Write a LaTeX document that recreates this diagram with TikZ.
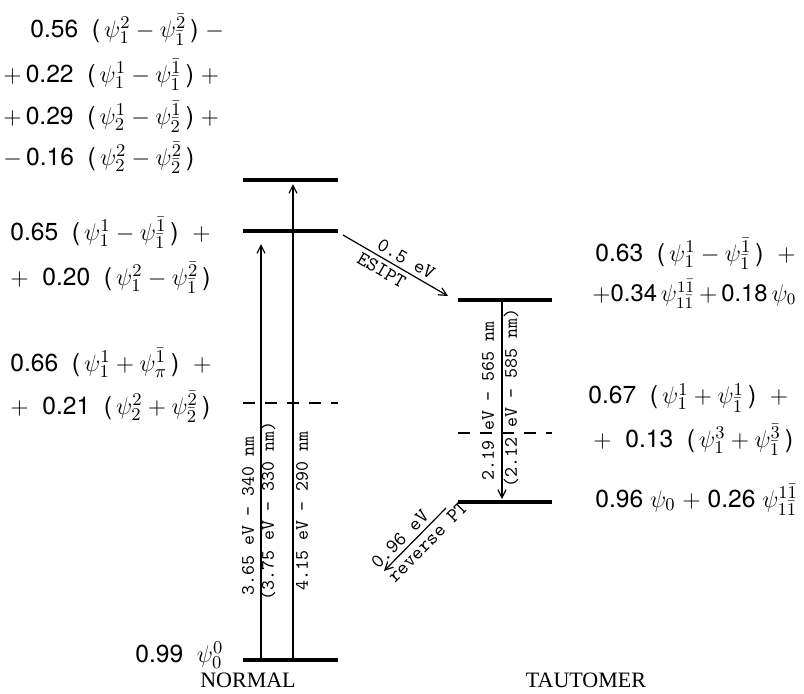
\documentclass[tikz,border=0pt]{standalone}
\usepackage{fontspec}
\setmainfont{Liberation Serif}
\newfontfamily\eqf{TeX Gyre Heros}
\usetikzlibrary{arrows.meta}
\begin{document}
\begin{tikzpicture}[x=0.5pt,y=-0.5pt,
  lvl/.style={line width=2pt},
  dlvl/.style={line width=0.6pt, dash pattern=on 6pt off 5pt},
  tr/.style={line width=0.6pt, -{Straight Barb[length=4pt,width=4pt]}},
  eq/.style={font=\eqf\fontsize{12.3}{14}\selectfont, anchor=west, inner sep=0pt},
  eqs/.style={font=\eqf\fontsize{11.9}{14}\selectfont, anchor=west, inner sep=0pt},
  lbl/.style={font=\ttfamily\fontsize{9.5}{11}\selectfont, inner sep=0pt},
  slbl/.style={font=\ttfamily\fontsize{10}{11}\selectfont, inner sep=2pt, sloped},
  captxt/.style={font=\fontsize{11}{13}\selectfont, inner sep=0pt}]
\useasboundingbox (0,0) rectangle (804,693);
% levels NORMAL
\coordinate (n4a) at (243,180); \coordinate (n4b) at (338,180);
\coordinate (n3a) at (243,231); \coordinate (n3b) at (338,231);
\coordinate (n2a) at (243,403); \coordinate (n2b) at (338,403);
\coordinate (n1a) at (243,660); \coordinate (n1b) at (338,660);
\draw[lvl] (n4a) -- (n4b);
\draw[lvl] (n3a) -- (n3b);
\draw[dlvl] (n2a) -- (n2b);
\draw[lvl] (n1a) -- (n1b);
% levels TAUTOMER
\coordinate (t3a) at (458,300); \coordinate (t3b) at (552,300);
\coordinate (t2a) at (458,433); \coordinate (t2b) at (552,433);
\coordinate (t1a) at (458,502); \coordinate (t1b) at (552,502);
\draw[lvl] (t3a) -- (t3b);
\draw[dlvl] (t2a) -- (t2b);
\draw[lvl] (t1a) -- (t1b);
% transitions
\coordinate (a1s) at (261,660); \coordinate (a1e) at (261,244);
\coordinate (a2s) at (293,660); \coordinate (a2e) at (293,184);
\coordinate (a3s) at (502,302); \coordinate (a3e) at (502,499);
\coordinate (a4s) at (343,235); \coordinate (a4e) at (448,296);
\coordinate (a5s) at (446,508); \coordinate (a5e) at (384,571);
\draw[tr] (a1s) -- (a1e);
\draw[tr] (a2s) -- (a2e);
\draw[tr] (a3s) -- (a3e);
\draw[tr] (a4s) -- node[slbl, above, pos=0.55] (esa) {0.5 eV} node[slbl, below, pos=0.42] (esb) {ESIPT} (a4e);
\draw[tr] (a5s) -- node[slbl, below, pos=0.42] (rpa) {reverse PT} node[slbl, above, pos=0.62] (rpb) {0.96 eV} (a5e);
% rotated labels
\node[lbl, rotate=90] (A1) at (248,516) {3.65 eV \textendash{} 340 nm};
\node[lbl, rotate=90] (A2) at (268,511) {(3.75 eV \textendash{} 330 nm)};
\node[lbl, rotate=90] (A3) at (302,511) {4.15 eV \textendash{} 290 nm};
\node[lbl, rotate=90] (B1) at (488,401) {2.19 eV \textendash{} 565 nm};
\node[lbl, rotate=90] (B2) at (511,398) {(2.12 eV \textendash{} 585 nm)};
% left equations
\node[eq] (L1) at (30,30) {0.56\ \ (\,$\psi_1^2 - \psi_{\bar1}^{\bar2}$\,) $-$};
\node[eq] (L2) at (3,75) {$+$\,0.22\ \ (\,$\psi_1^1 - \psi_{\bar1}^{\bar1}$\,) $+$};
\node[eq] (L3) at (3,117) {$+$\,0.29\ \ (\,$\psi_2^1 - \psi_{\bar2}^{\bar1}$\,) $+$};
\node[eq] (L4) at (3,158) {$-$\,0.16\ \ (\,$\psi_2^2 - \psi_{\bar2}^{\bar2}$\,)};
\node[eq] (L5) at (10,233) {0.65\ \ (\,$\psi_1^1 - \psi_{\bar1}^{\bar1}$\,)\ \ $+$};
\node[eq] (L6) at (10,278) {$+$\ \ 0.20\ \ (\,$\psi_1^2 - \psi_{\bar1}^{\bar2}$\,)};
\node[eq] (L7) at (10,363) {0.66\ \ (\,$\psi_1^1 + \psi_{\pi}^{\bar1}$\,)\ \ $+$};
\node[eq] (L8) at (10,407) {$+$\ \ 0.21\ \ (\,$\psi_2^2 + \psi_{\bar2}^{\bar2}$\,)};
\node[eq] (L9) at (135,655) {0.99\ \ $\psi_0^0$};
% right equations
\node[eq] (R1) at (595,254) {0.63\ \ (\,$\psi_1^1 - \psi_{\bar1}^{\bar1}$\,)\ \ $+$};
\node[eqs] (R2) at (592,294) {$+$0.34\,$\psi_{1\bar1}^{1\bar1}$\,$+$\,0.18\,$\psi_0$};
\node[eq] (R3) at (588,398) {0.67\ \ (\,$\psi_1^1 + \psi_{\bar1}^{1}$\,)\ \ $+$};
\node[eq] (R4) at (593,440) {$+$\ \ 0.13\ \ (\,$\psi_1^3 + \psi_{\bar1}^{\bar3}$\,)};
\node[eq] (R5) at (595,500) {0.96\ $\psi_0$ $+$ 0.26\ $\psi_{1\bar1}^{1\bar1}$};
% captions
\node[captxt] (NOR) at (248,680) {NORMAL};
\node[captxt] (TAU) at (586,680) {TAUTOMER};
\end{tikzpicture}
\end{document}
